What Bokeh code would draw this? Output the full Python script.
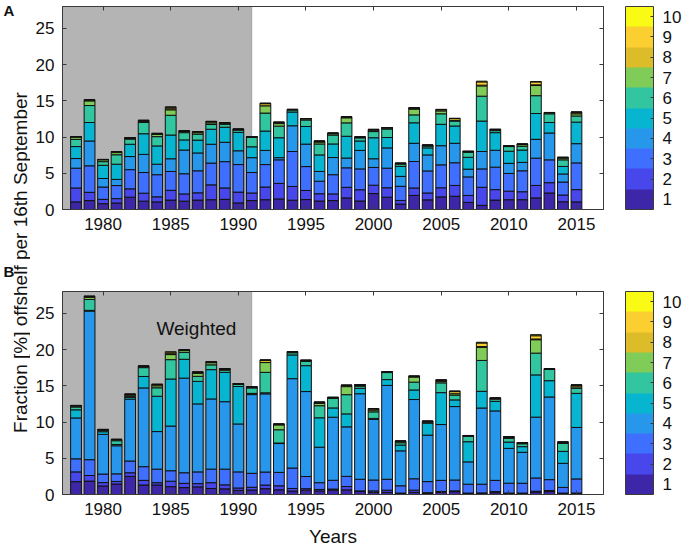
import math
import numpy as np
from bokeh.plotting import figure
from bokeh.models import (Range1d, LinearAxis, FixedTicker, BoxAnnotation, ColorBar,
                          LinearColorMapper, Label)
from bokeh.layouts import row, column
from bokeh.embed import file_html
from bokeh.resources import INLINE

# ---------------- data ----------------
years = list(range(1978, 2016))
levels = ["1", "2", "3", "4", "5", "6", "7", "8", "9", "10"]
colors = ["#3E26A8", "#4747EB", "#3E6FFF", "#2797EB", "#08B5D0",
          "#31C69F", "#80CC59", "#DCBD29", "#FCCF30", "#F9FB14"]
x_ticks = [1980, 1985, 1990, 1995, 2000, 2005, 2010, 2015]
y_ticks = [0, 5, 10, 15, 20, 25]
shade_end = 1991

# cumulative stack tops (levels 1..10) per year, panel A (unweighted)
cum_a = [
    [1.05, 2.97, 5.70, 7.03, 8.68, 9.68, 10.00, 10.05, 10.05, 10.05],   # 1978
    [1.23, 2.37, 6.03, 9.45, 12.00, 14.34, 14.98, 15.10, 15.15, 15.15], # 1979
    [0.80, 1.40, 3.10, 4.28, 6.10, 6.60, 6.85, 6.90, 6.90, 6.90],       # 1980
    [0.90, 1.50, 3.30, 4.15, 6.25, 7.55, 7.85, 8.00, 8.00, 8.00],       # 1981
    [1.70, 2.85, 5.50, 7.30, 9.00, 9.70, 9.85, 9.90, 9.90, 9.90],       # 1982
    [1.15, 2.25, 5.10, 7.60, 10.45, 12.00, 12.15, 12.25, 12.30, 12.30], # 1983
    [1.05, 1.75, 4.80, 6.25, 8.77, 10.05, 10.35, 10.45, 10.50, 10.50],  # 1984
    [1.30, 2.65, 5.25, 7.00, 10.27, 13.00, 13.75, 13.90, 14.10, 14.15], # 1985
    [1.15, 2.15, 4.93, 8.20, 9.60, 10.60, 10.75, 10.85, 10.85, 10.85],  # 1986
    [1.30, 2.30, 5.34, 7.80, 9.57, 10.40, 10.60, 10.75, 10.75, 10.75],  # 1987
    [1.35, 3.40, 6.40, 9.00, 11.07, 11.72, 11.95, 12.10, 12.15, 12.15], # 1988
    [1.40, 2.97, 6.60, 9.27, 11.35, 11.75, 11.90, 11.95, 11.95, 11.95], # 1989
    [0.91, 2.40, 6.20, 8.10, 10.64, 10.95, 11.05, 11.08, 11.08, 11.08], # 1990
    [1.23, 2.28, 5.10, 7.15, 8.65, 9.95, 10.00, 10.05, 10.05, 10.05],   # 1991
    [1.35, 3.10, 6.20, 8.15, 10.82, 13.30, 14.30, 14.60, 14.65, 14.65], # 1992
    [1.46, 3.60, 6.85, 7.15, 9.90, 11.50, 11.85, 12.00, 12.05, 12.05],  # 1993
    [1.28, 3.18, 8.00, 11.55, 13.45, 13.70, 13.80, 13.80, 13.80, 13.80],# 1994
    [1.37, 2.63, 5.92, 9.02, 11.45, 12.35, 12.50, 12.55, 12.55, 12.55], # 1995
    [1.17, 2.17, 3.90, 5.25, 7.53, 9.04, 9.30, 9.40, 9.45, 9.45],       # 1996
    [1.23, 2.15, 4.80, 7.17, 9.04, 10.27, 10.45, 10.50, 10.55, 10.55],  # 1997
    [1.60, 3.06, 5.75, 7.10, 10.10, 11.95, 12.65, 12.75, 12.80, 12.80], # 1998
    [1.17, 2.72, 5.60, 8.15, 9.45, 9.88, 9.98, 10.00, 10.00, 10.00],    # 1999
    [2.20, 3.35, 5.80, 7.00, 9.90, 10.75, 10.95, 11.02, 11.05, 11.05],  # 2000
    [1.70, 3.00, 5.70, 8.50, 9.93, 11.10, 11.25, 11.30, 11.30, 11.30],  # 2001
    [0.75, 1.25, 3.20, 4.57, 5.95, 6.25, 6.35, 6.38, 6.38, 6.38],       # 2002
    [1.94, 2.97, 6.62, 9.13, 11.96, 13.05, 13.85, 14.00, 14.03, 14.03], # 2003
    [1.33, 2.28, 5.32, 7.53, 8.50, 8.75, 8.85, 8.88, 8.88, 8.88],       # 2004
    [1.74, 3.00, 6.16, 8.80, 11.75, 13.20, 13.60, 13.75, 13.80, 13.80], # 2005
    [1.83, 3.32, 6.45, 9.13, 11.52, 12.20, 12.30, 12.56, 12.56, 12.56], # 2006
    [0.98, 1.94, 4.50, 5.57, 7.20, 7.88, 8.00, 8.02, 8.02, 8.02],       # 2007
    [0.57, 3.06, 5.60, 8.00, 12.20, 15.63, 17.05, 17.15, 17.60, 17.70], # 2008
    [1.30, 2.74, 5.84, 8.17, 10.60, 10.88, 11.00, 11.05, 11.05, 11.05], # 2009
    [1.35, 2.53, 4.97, 6.37, 8.04, 8.68, 8.75, 8.77, 8.77, 8.77],       # 2010
    [1.35, 2.45, 5.34, 6.50, 8.20, 8.72, 8.95, 9.02, 9.02, 9.02],       # 2011
    [1.60, 3.32, 7.08, 9.68, 13.24, 15.70, 17.10, 17.20, 17.60, 17.65], # 2012
    [2.28, 3.70, 6.85, 10.55, 12.00, 13.20, 13.33, 13.38, 13.38, 13.38],# 2013
    [1.07, 2.00, 3.79, 4.90, 5.94, 6.85, 7.08, 7.15, 7.20, 7.20],       # 2014
    [1.05, 2.74, 6.43, 9.08, 12.05, 12.90, 13.20, 13.35, 13.45, 13.45], # 2015
]

# cumulative stack tops (levels 1..10) per year, panel B (weighted)
cum_b = [
    [1.77, 3.12, 4.92, 10.56, 11.68, 12.07, 12.20, 12.28, 12.28, 12.28], # 1978
    [1.85, 2.62, 4.80, 25.30, 25.40, 26.90, 27.20, 27.30, 27.35, 27.35], # 1979
    [1.18, 1.64, 2.82, 8.29, 8.66, 8.84, 8.92, 8.97, 8.97, 8.97],        # 1980
    [1.45, 1.80, 2.85, 6.72, 6.90, 7.42, 7.55, 7.60, 7.60, 7.60],        # 1981
    [2.50, 3.00, 4.62, 13.15, 13.40, 13.55, 13.70, 13.80, 13.85, 13.85], # 1982
    [1.31, 1.95, 3.84, 14.70, 16.28, 17.50, 17.55, 17.72, 17.72, 17.72], # 1983
    [1.31, 1.63, 3.50, 8.68, 13.55, 14.72, 15.00, 15.15, 15.20, 15.20],  # 1984
    [1.08, 1.83, 3.28, 9.44, 15.93, 18.60, 19.30, 19.40, 19.55, 19.70],  # 1985
    [0.95, 1.54, 3.00, 16.05, 18.65, 19.60, 19.85, 19.95, 19.97, 19.97], # 1986
    [1.05, 1.50, 3.12, 12.50, 15.60, 16.30, 16.70, 16.85, 16.90, 16.90], # 1987
    [0.83, 1.63, 3.50, 13.18, 17.22, 17.88, 18.18, 18.30, 18.32, 18.32], # 1988
    [0.78, 1.33, 3.50, 12.80, 16.85, 17.15, 17.30, 17.33, 17.33, 17.33], # 1989
    [0.57, 0.90, 3.12, 9.73, 14.90, 15.18, 15.28, 15.30, 15.30, 15.30],  # 1990
    [0.62, 1.00, 2.92, 13.78, 13.95, 14.70, 14.82, 14.85, 14.85, 14.85], # 1991
    [0.80, 1.30, 3.10, 13.88, 14.03, 16.85, 18.20, 18.50, 18.55, 18.55], # 1992
    [0.65, 1.20, 3.05, 7.03, 7.10, 8.93, 9.60, 9.70, 9.72, 9.72],        # 1993
    [0.48, 0.83, 3.65, 15.98, 19.25, 19.55, 19.68, 19.70, 19.72, 19.72], # 1994
    [0.60, 0.80, 2.48, 14.20, 17.77, 18.35, 18.47, 18.50, 18.52, 18.52], # 1995
    [0.50, 0.70, 1.63, 6.52, 10.58, 12.25, 12.55, 12.70, 12.75, 12.75],  # 1996
    [0.60, 0.75, 1.96, 10.66, 11.94, 13.26, 13.35, 13.39, 13.40, 13.40], # 1997
    [0.64, 1.10, 2.50, 9.33, 11.12, 13.77, 14.88, 15.05, 15.08, 15.08],  # 1998
    [0.41, 0.50, 2.10, 13.90, 14.65, 14.95, 15.05, 15.15, 15.15, 15.15], # 1999
    [0.30, 0.50, 2.00, 10.35, 10.50, 11.40, 11.65, 11.80, 11.85, 11.85], # 2000
    [0.30, 0.60, 2.10, 15.05, 15.85, 16.82, 16.90, 16.93, 16.93, 16.93], # 2001
    [0.10, 0.20, 1.20, 6.02, 6.82, 7.14, 7.30, 7.37, 7.37, 7.37],        # 2002
    [0.30, 0.60, 2.17, 13.10, 14.42, 15.50, 16.20, 16.30, 16.33, 16.33], # 2003
    [0.15, 0.25, 1.78, 8.19, 9.85, 9.98, 10.05, 10.10, 10.12, 10.12],    # 2004
    [0.30, 0.42, 1.95, 9.65, 14.05, 15.40, 15.60, 15.75, 15.80, 15.80],  # 2005
    [0.40, 0.50, 2.00, 12.13, 13.05, 13.70, 13.90, 14.20, 14.25, 14.25], # 2006
    [0.10, 0.20, 1.42, 4.50, 7.28, 8.00, 8.10, 8.14, 8.14, 8.14],        # 2007
    [0.12, 0.22, 1.42, 11.93, 14.23, 18.49, 20.30, 20.40, 20.90, 21.00], # 2008
    [0.25, 0.40, 1.95, 11.53, 12.85, 13.15, 13.25, 13.30, 13.30, 13.30], # 2009
    [0.10, 0.20, 1.56, 6.36, 7.23, 7.75, 7.90, 7.96, 7.96, 7.96],        # 2010
    [0.10, 0.20, 1.55, 5.82, 6.60, 7.00, 7.12, 7.16, 7.16, 7.16],        # 2011
    [0.33, 0.45, 2.28, 10.67, 16.50, 19.50, 21.35, 21.45, 21.90, 22.05], # 2012
    [0.40, 0.55, 2.05, 13.45, 15.70, 17.25, 17.33, 17.35, 17.35, 17.35], # 2013
    [0.10, 0.20, 0.98, 4.30, 5.95, 7.05, 7.12, 7.20, 7.25, 7.25],        # 2014
    [0.10, 0.20, 2.15, 9.25, 13.95, 14.65, 14.85, 15.05, 15.12, 15.12],  # 2015
]

FONT = "Liberation Sans"
AX = "#3a3a3a"
TXT = "#111111"


def style_axis(ax, labels=True):
    ax.axis_line_color = AX
    ax.major_tick_line_color = AX
    ax.major_tick_in = 4
    ax.major_tick_out = 0
    ax.minor_tick_line_color = None
    if labels:
        ax.major_label_text_font = FONT
        ax.major_label_text_font_size = "17px"
        ax.major_label_text_color = TXT
        ax.major_label_standoff = 8
    else:
        ax.major_label_text_color = None
        ax.major_label_text_font_size = "1px"
        ax.major_label_standoff = 0


def make_panel(cum, top_border, bottom_border, xlabel=None, note=None):
    p = figure(frame_width=541, frame_height=203,
               x_range=Range1d(1977, 2017), y_range=Range1d(0, 28),
               output_backend="svg", toolbar_location=None,
               min_border_left=32, min_border_right=80,
               min_border_top=top_border, min_border_bottom=bottom_border)
    p.xgrid.visible = False
    p.ygrid.visible = False
    p.outline_line_color = AX
    p.background_fill_color = "white"
    p.border_fill_color = "white"

    shade = BoxAnnotation(right=shade_end, fill_color="#B4B4B4", fill_alpha=1.0,
                          line_color="#555555", line_width=1, level="underlay")
    p.add_layout(shade)

    arr = np.array(cum)
    for k in range(len(levels)):
        bottom = np.zeros(len(years)) if k == 0 else arr[:, k - 1]
        p.vbar(x=years, bottom=bottom, top=arr[:, k], width=0.8,
               fill_color=colors[k], line_color="#111111", line_width=1)

    p.xaxis.ticker = FixedTicker(ticks=x_ticks)
    p.yaxis.ticker = FixedTicker(ticks=y_ticks)
    style_axis(p.xaxis[0])
    style_axis(p.yaxis[0])
    if xlabel:
        p.xaxis.axis_label = xlabel
        p.xaxis.axis_label_text_font = FONT
        p.xaxis.axis_label_text_font_size = "19px"
        p.xaxis.axis_label_text_font_style = "normal"
        p.xaxis.axis_label_text_color = TXT
        p.xaxis.axis_label_standoff = 8

    top_ax = LinearAxis(ticker=FixedTicker(ticks=x_ticks))
    style_axis(top_ax, labels=False)
    p.add_layout(top_ax, "above")
    right_ax = LinearAxis(ticker=FixedTicker(ticks=y_ticks))
    style_axis(right_ax, labels=False)
    p.add_layout(right_ax, "right")

    mapper = LinearColorMapper(palette=colors, low=0.5, high=10.5)
    cb = ColorBar(color_mapper=mapper, ticker=FixedTicker(ticks=list(range(1, 11))),
                  width=28, height=203, padding=0, margin=0, location=(22, 0),
                  bar_line_color=AX, major_tick_line_color=AX,
                  major_tick_in=3, major_tick_out=0, label_standoff=9,
                  major_label_text_font=FONT, major_label_text_font_size="17px",
                  major_label_text_color=TXT,
                  background_fill_alpha=0, border_line_color=None)
    p.add_layout(cb, "right")

    if note:
        p.add_layout(Label(x=1986.9, y=22.9, text=note, text_align="center",
                           text_baseline="middle", text_font=FONT,
                           text_font_size="19px", text_color=TXT))
    return p


pa = make_panel(cum_a, top_border=6, bottom_border=53)
pb = make_panel(cum_b, top_border=29, bottom_border=50, xlabel="Years", note="Weighted")

total_h = 544
lab = figure(frame_width=30, frame_height=total_h, x_range=Range1d(0, 30),
             y_range=Range1d(total_h, 0), output_backend="svg", toolbar_location=None,
             x_axis_type=None, y_axis_type=None, min_border=0)
lab.outline_line_color = None
lab.xgrid.visible = False
lab.ygrid.visible = False
lab.add_layout(Label(x=3, y=10, text="A", text_font=FONT, text_font_size="15px",
                     text_font_style="bold", text_baseline="middle", text_color=TXT))
lab.add_layout(Label(x=3, y=271, text="B", text_font=FONT, text_font_size="15px",
                     text_font_style="bold", text_baseline="middle", text_color=TXT))
lab.add_layout(Label(x=20, y=262, text="Fraction [%] offshelf per 16th September",
                     angle=math.pi / 2, text_align="center", text_baseline="middle",
                     text_font=FONT, text_font_size="19px", text_color=TXT))

layout = row(lab, column(pa, pb, spacing=0), spacing=0)

with open("out.html", "w") as f:
    f.write(file_html(layout, INLINE))
